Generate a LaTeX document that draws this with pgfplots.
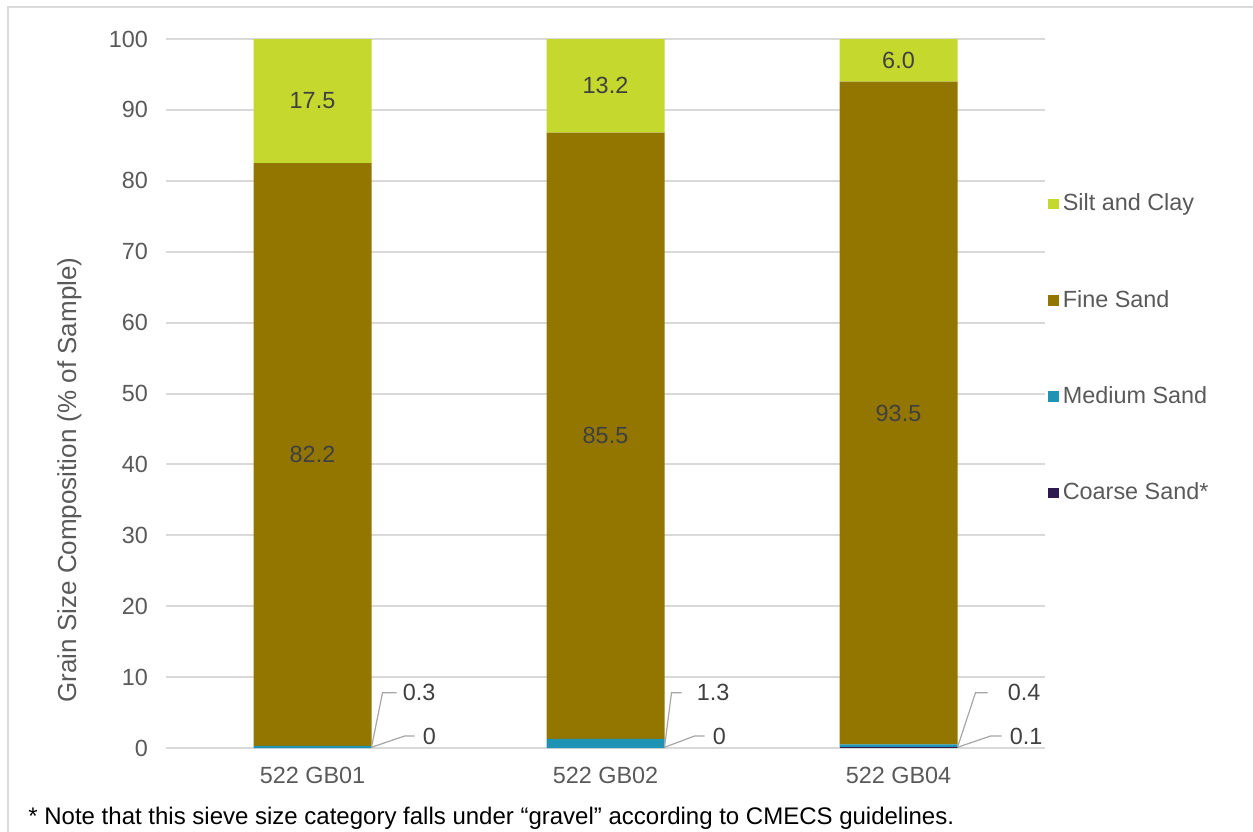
\documentclass[border=0pt]{standalone}
\usepackage{fontspec}
\setmainfont{Liberation Sans}
\usepackage{pgfplots}
\pgfplotsset{compat=1.18}
\definecolor{silt}{HTML}{C5D82E}
\definecolor{fine}{HTML}{937600}
\definecolor{medium}{HTML}{1F93B3}
\definecolor{coarse}{HTML}{2E1A4F}
\definecolor{txt}{HTML}{595959}
\definecolor{lbl}{HTML}{404040}
\definecolor{gridc}{HTML}{D9D9D9}
\definecolor{lead}{HTML}{A6A6A6}
\newcommand{\cf}{\fontsize{11.7}{14}\selectfont}
\begin{document}
\begin{tikzpicture}
\useasboundingbox (0pt,0pt) rectangle (626.5pt,-415.5pt);
\draw[gridc, line width=1pt] (4pt,-420pt) -- (4pt,-3.5pt) -- (630pt,-3.5pt);
\pgfplotsset{base/.style={
  at={(83pt,-374pt)}, anchor=south west, scale only axis,
  width=439.5pt, height=354.5pt,
  xmin=-0.5, xmax=2.5, ymin=0, ymax=100,
}, sq/.style={draw=none, fill=#1,
  legend image code/.code={\fill[fill=#1] (0pt,-2.6pt) rectangle (5.2pt,2.6pt);}}}
\begin{axis}[base, ybar stacked, bar width=59pt,
  axis line style={draw=none}, major tick length=0pt, tick style={draw=none},
  ymajorgrids, grid style={gridc, line width=1pt},
  xtick=data, xticklabels={522 GB01, 522 GB02, 522 GB04},
  ytick={0,10,...,100},
  tick label style={font=\cf, text=txt},
  /pgf/number format/assume math mode=true,
  yticklabel style={xshift=-5.5pt},
  xticklabel style={yshift=-6pt},
  ylabel={Grain Size Composition (\% of Sample)},
  ylabel style={at={(axis description cs:-0.1098,0.378)}, anchor=center,
    font=\fontsize{13}{15}\selectfont, text=txt},
  legend style={at={(1,0.5635)}, anchor=west, xshift=1.5pt, draw=none, fill=none,
    font=\cf, text=txt, row sep=34.2pt, inner sep=0pt, cells={anchor=west}},
  reverse legend,
]
\addplot[sq=coarse] coordinates {(0,0) (1,0) (2,0.1)};
\addlegendentry{Coarse Sand*}
\addplot[sq=medium] coordinates {(0,0.3) (1,1.3) (2,0.4)};
\addlegendentry{Medium Sand}
\addplot[sq=fine] coordinates {(0,82.2) (1,85.5) (2,93.5)};
\addlegendentry{Fine Sand}
\addplot[sq=silt] coordinates {(0,17.5) (1,13.2) (2,6.0)};
\addlegendentry{Silt and Clay}
\end{axis}
\begin{axis}[base, hide axis]
\addplot[draw=none, nodes near coords, point meta=explicit symbolic,
  every node near coord/.style={anchor=center, font=\cf, text=lbl}]
  coordinates {(0,41.4)[82.2] (1,44.05)[85.5] (2,47.25)[93.5]
               (0,91.25)[17.5] (1,93.4)[13.2] (2,97.0)[6.0]};
% leader lines
\addplot[lead, line width=0.6pt] coordinates {(0.2014,0.1) (0.2389,7.8) (0.2867,7.8)};
\addplot[lead, line width=0.6pt] coordinates {(0.2014,0.1) (0.3140,1.69) (0.3482,1.69)};
\addplot[lead, line width=0.6pt] coordinates {(1.2014,0.1) (1.2253,7.8) (1.2594,7.8)};
\addplot[lead, line width=0.6pt] coordinates {(1.2014,0.1) (1.3038,1.69) (1.3379,1.69)};
\addplot[lead, line width=0.6pt] coordinates {(2.2014,0.1) (2.2628,7.8) (2.3038,7.8)};
\addplot[lead, line width=0.6pt] coordinates {(2.2014,0.1) (2.3140,1.69) (2.3515,1.69)};
\addplot[draw=none, nodes near coords, point meta=explicit symbolic,
  every node near coord/.style={anchor=west, inner sep=0pt, font=\cf, text=lbl}]
  coordinates {(0.3072,7.8)[0.3] (0.3754,1.69)[0]
               (1.3106,7.8)[1.3] (1.3652,1.69)[0]
               (2.3720,7.8)[0.4] (2.3789,1.69)[0.1]};
\end{axis}
\node[anchor=base west, inner sep=0pt, font=\fontsize{12}{14}\selectfont, text=black] at (14pt,-412pt) {* Note that this sieve size category falls under “gravel” according to CMECS guidelines.};
\end{tikzpicture}
\end{document}
